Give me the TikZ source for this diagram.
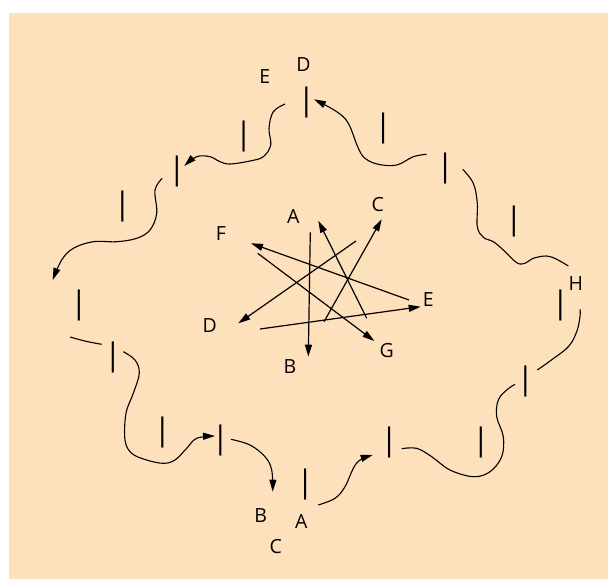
\documentclass[tikz,border=0pt]{standalone}
\usepackage{fontspec}
\setmainfont{Open Sans}
\usetikzlibrary{arrows.meta}
\definecolor{peach}{RGB}{253,224,188}
\tikzset{
  barmark/.style={inner sep=0pt, font=\fontsize{31}{31}\selectfont},
  lbl/.style={inner sep=0pt, font=\fontsize{19.5}{20}\selectfont},
  wave/.style={line width=1.1pt},
  arr/.style={line width=1.1pt, -{Triangle[length=12pt,width=7pt]}},
  straight/.style={line width=1.2pt, -{Triangle[length=12pt,width=7pt]}}
}
\begin{document}
\begin{tikzpicture}[x=1pt,y=-1pt]
\useasboundingbox (0,0) rectangle (608,579);
\fill[white] (0,0) rectangle (608,579);
\fill[peach] (8.5,13) rectangle (608,579);
% bars
\node[barmark] (b1) at (306.5,102) {|};
\node[barmark] (b2) at (243.7,136) {|};
\node[barmark] (b3) at (177,171.5) {|};
\node[barmark] (b4) at (122.4,206) {|};
\node[barmark] (b5) at (79,305.8) {|};
\node[barmark] (b6) at (113,357.5) {|};
\node[barmark] (b7) at (162.5,432.7) {|};
\node[barmark] (b8) at (220.5,440.8) {|};
\node[barmark] (b9) at (305.2,484) {|};
\node[barmark] (b10) at (389.2,442.6) {|};
\node[barmark] (b11) at (480.8,442) {|};
\node[barmark] (b12) at (525.5,381.2) {|};
\node[barmark] (b13) at (560.5,305.8) {|};
\node[barmark] (b14) at (513.8,221) {|};
\node[barmark] (b15) at (445.2,168.5) {|};
\node[barmark] (b16) at (383.2,128.3) {|};
% labels
\node[lbl] (tD) at (303.6,64.6) {D};
\node[lbl] (tE) at (264.8,76.8) {E};
\node[lbl] (cA) at (293.4,216.5) {A};
\node[lbl] (cC) at (377.8,204.5) {C};
\node[lbl] (cF) at (221,233.8) {F};
\node[lbl] (cD) at (209.7,325.4) {D};
\node[lbl] (cE) at (428.4,300) {E};
\node[lbl] (cG) at (386.6,351) {G};
\node[lbl] (cB) at (290,367) {B};
\node[lbl] (rH) at (575.8,283.6) {H};
\node[lbl] (bB) at (260.6,515.9) {B};
\node[lbl] (bA) at (301.3,521.8) {A};
\node[lbl] (bC) at (275.8,546.6) {C};
% connector ends
\coordinate (a0) at (426.5,154.3); \coordinate (a1) at (314,99.3);
\coordinate (c0) at (285,104);     \coordinate (c1) at (184.3,166);
\coordinate (d0) at (162.3,178.3); \coordinate (d1) at (52.7,280);
\coordinate (e0) at (70,337);      \coordinate (e1) at (101.7,344.3);
\coordinate (f0) at (123.3,351.7); \coordinate (f1) at (215,436);
\coordinate (g0) at (231,439.3);   \coordinate (g1) at (272.7,491.7);
\coordinate (h0) at (318.3,505);   \coordinate (h1) at (372.7,455);
\coordinate (i0) at (401.7,448.7); \coordinate (i1) at (515,384.3);
\coordinate (j0) at (537.3,370);   \coordinate (j1) at (580,309.3);
\coordinate (k0) at (462.7,169.3); \coordinate (k1) at (568.3,266);
% outer wavy connectors
\draw[arr] plot[smooth, tension=0.6] coordinates {(a0) (413.3,156.7) (396.7,165) (378.3,164.3) (365,158.3) (358,147.5) (348.3,123.3) (336.7,111.7) (a1)};
\draw[arr] plot[smooth, tension=0.6] coordinates {(c0) (273.3,111.7) (269,128.3) (270.7,145) (263.3,156.7) (250,161) (230,164) (220,161.7) (210,156.7) (196.7,156.7) (c1)};
\draw[arr] plot[smooth, tension=0.6] coordinates {(d0) (155,190) (156.7,213.3) (150,230) (136.7,238.3) (116.7,241.7) (93.3,241.7) (73.3,248.3) (61.7,260) (d1)};
\draw[wave] plot[smooth, tension=0.6] coordinates {(e0) (86,341.3) (e1)};
\draw[arr] plot[smooth, tension=0.6] coordinates {(f0) (135,360) (139.3,373.3) (133.3,393.3) (126,413.3) (125,440) (131.7,453.3) (146.7,460) (163.3,463.3) (175,460) (186.7,448.3) (196.7,438.3) (f1)};
\draw[arr] plot[smooth, tension=0.6] coordinates {(g0) (250,445) (265,456.7) (271.7,470) (g1)};
\draw[arr] plot[smooth, tension=0.6] coordinates {(h0) (335,498.3) (345,486.7) (353.3,468.3) (360,460) (h1)};
\draw[wave] plot[smooth, tension=0.6] coordinates {(i0) (416.7,448.3) (431.7,456.7) (450,470) (473.3,476.7) (490,471.7) (501.7,456.7) (503.3,436.7) (496.7,416.7) (498.3,400) (506.7,390) (i1)};
\draw[wave] plot[smooth, tension=0.6] coordinates {(j0) (550,361) (568.3,346.7) (576.7,331.7) (580,316.7) (j1)};
\draw[wave] plot[smooth, tension=0.6] coordinates {(k0) (473.3,183.3) (477.3,203.3) (477.3,226.7) (483.3,237.3) (493.3,241.7) (503.3,250) (516.7,262.7) (525,263.3) (533.3,258.3) (546.7,256) (556.7,259.3) (k1)};
% central arrows
\coordinate (s1) at (310.3,232.3); \coordinate (t1) at (308.3,356.7);
\coordinate (s2) at (366.7,318.3); \coordinate (t2) at (318.3,220.7);
\coordinate (s3) at (356,241);     \coordinate (t3) at (238.3,323.3);
\coordinate (s4) at (324,321.7);   \coordinate (t4) at (381.7,219.3);
\coordinate (s5) at (409,300);     \coordinate (t5) at (251,243.3);
\coordinate (s6) at (257.7,253.3); \coordinate (t6) at (374.3,341);
\coordinate (s7) at (260,329);     \coordinate (t7) at (420.7,306.7);
\draw[straight] (s1) -- (t1);
\draw[straight] (s2) -- (t2);
\draw[straight] (s3) -- (t3);
\draw[straight] (s4) -- (t4);
\draw[straight] (s5) -- (t5);
\draw[straight] (s6) -- (t6);
\draw[straight] (s7) -- (t7);
\end{tikzpicture}
\end{document}
